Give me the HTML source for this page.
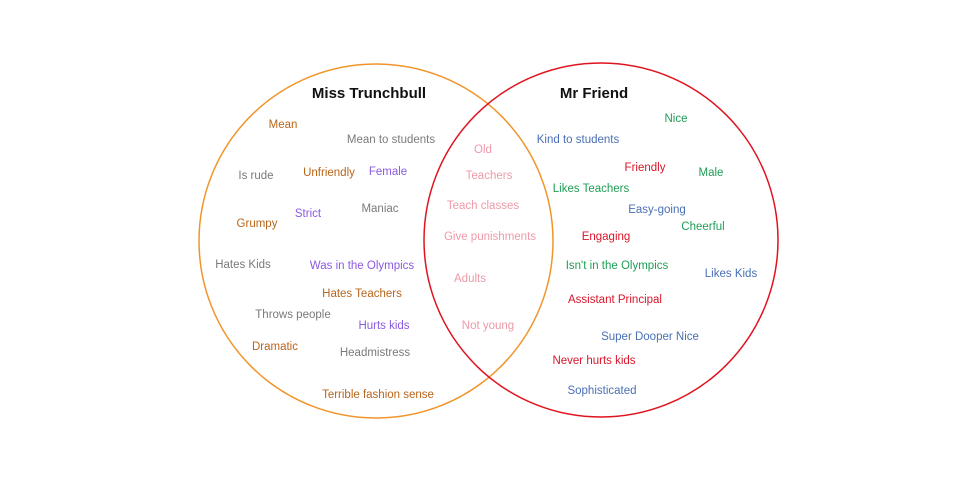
<!DOCTYPE html>
<html><head><meta charset="utf-8"><style>
html,body{margin:0;padding:0;background:#fff;}
svg{display:block;}
text{font-family:"Liberation Sans",sans-serif;font-size:11.5px;text-anchor:middle;}
.o{fill:#b8651b}.g{fill:#7a7a7a}.p{fill:#8a5ae0}.k{fill:#ee9aa8}.b{fill:#4a6fb5}.gr{fill:#1f9e55}.r{fill:#d8162a}
</style></head><body>
<svg width="960" height="480" viewBox="0 0 960 480">
<circle cx="376" cy="241" r="177" fill="none" stroke="#f0952a" stroke-width="1.5"/>
<circle cx="601" cy="240" r="177" fill="none" stroke="#e0131f" stroke-width="1.5"/>
<text x="369" y="98" style="font-size:15px;font-weight:bold;fill:#111">Miss Trunchbull</text>
<text x="594" y="98" style="font-size:15px;font-weight:bold;fill:#111">Mr Friend</text>
<text class="o" x="283" y="128">Mean</text>
<text class="g" x="391" y="143">Mean to students</text>
<text class="g" x="256" y="179">Is rude</text>
<text class="o" x="329" y="176">Unfriendly</text>
<text class="p" x="388" y="175">Female</text>
<text class="p" x="308" y="217">Strict</text>
<text class="g" x="380" y="212">Maniac</text>
<text class="o" x="257" y="227">Grumpy</text>
<text class="g" x="243" y="268">Hates Kids</text>
<text class="p" x="362" y="269">Was in the Olympics</text>
<text class="o" x="362" y="297">Hates Teachers</text>
<text class="g" x="293" y="318">Throws people</text>
<text class="p" x="384" y="329">Hurts kids</text>
<text class="o" x="275" y="350">Dramatic</text>
<text class="g" x="375" y="356">Headmistress</text>
<text class="o" x="378" y="398">Terrible fashion sense</text>
<text class="k" x="483" y="153">Old</text>
<text class="k" x="489" y="179">Teachers</text>
<text class="k" x="483" y="209">Teach classes</text>
<text class="k" x="490" y="240">Give punishments</text>
<text class="k" x="470" y="282">Adults</text>
<text class="k" x="488" y="329">Not young</text>
<text class="gr" x="676" y="122">Nice</text>
<text class="b" x="578" y="143">Kind to students</text>
<text class="r" x="645" y="171">Friendly</text>
<text class="gr" x="711" y="176">Male</text>
<text class="gr" x="591" y="192">Likes Teachers</text>
<text class="b" x="657" y="213">Easy-going</text>
<text class="gr" x="703" y="230">Cheerful</text>
<text class="r" x="606" y="240">Engaging</text>
<text class="gr" x="617" y="269">Isn't in the Olympics</text>
<text class="b" x="731" y="277">Likes Kids</text>
<text class="r" x="615" y="303">Assistant Principal</text>
<text class="b" x="650" y="340">Super Dooper Nice</text>
<text class="r" x="594" y="364">Never hurts kids</text>
<text class="b" x="602" y="394">Sophisticated</text>
</svg>
</body></html>
